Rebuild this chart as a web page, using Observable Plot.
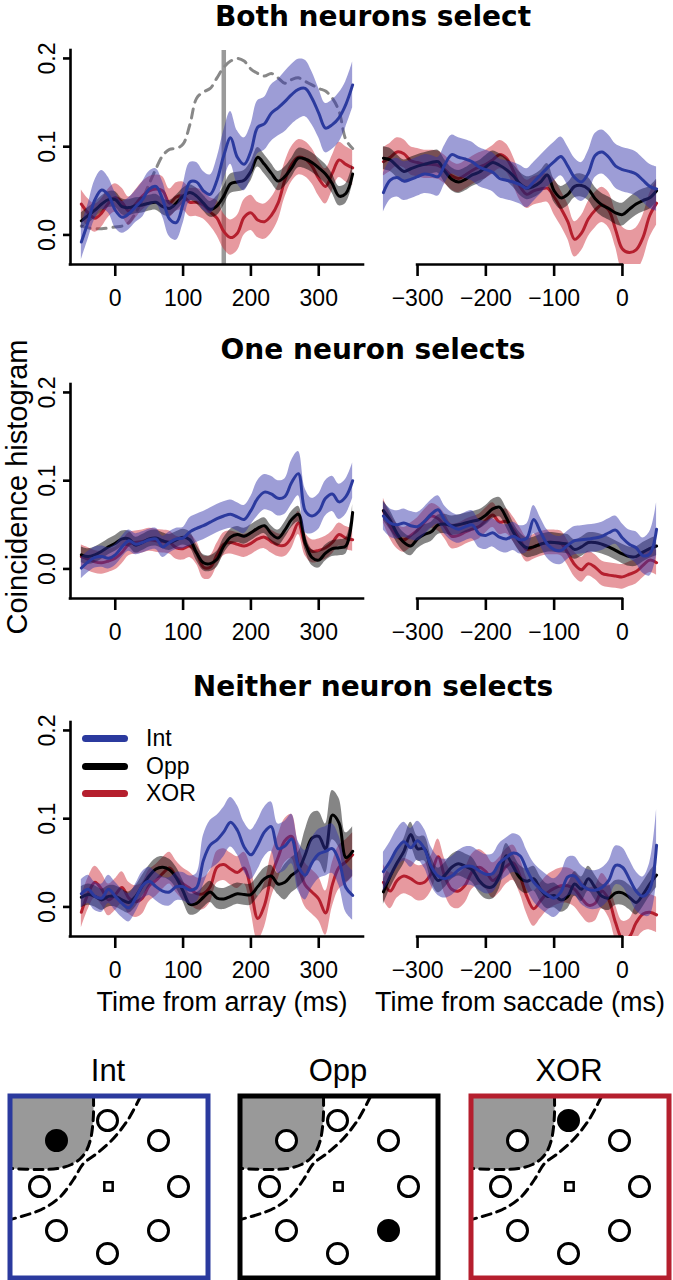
<!DOCTYPE html>
<html><head><meta charset="utf-8">
<script src="https://cdn.jsdelivr.net/npm/d3@7"></script>
<script src="https://cdn.jsdelivr.net/npm/@observablehq/plot@0.6"></script>
<style>
html,body{margin:0;padding:0;background:#fff;}
#root{position:relative;width:673px;height:1280px;overflow:hidden;background:#fff;font-family:"Liberation Sans",Arial,Helvetica,sans-serif;color:#000;}
.lbl{position:absolute;transform:translate(-50%,-50%);white-space:nowrap;line-height:1;}
.ttl{font-family:"DejaVu Sans",sans-serif;font-weight:bold;font-size:28px;}
.pl{position:absolute;}
.pl svg{overflow:visible;display:block;}
</style></head><body><div id="root"></div>
<script>
// ---------------- data ----------------
const tArray = [-50,-40,-30,-20,-10,0,10,20,30,40,50,60,70,80,90,100,110,120,130,140,150,160,170,180,190,200,210,220,230,240,250,260,270,280,290,300,310,320,330,340,350];
const tSacc = [-350,-340,-330,-320,-310,-300,-290,-280,-270,-260,-250,-240,-230,-220,-210,-200,-190,-180,-170,-160,-150,-140,-130,-120,-110,-100,-90,-80,-70,-60,-50,-40,-30,-20,-10,0,10,20,30,40,50];
const seriesNames = ["Int","Opp","XOR"];
const yTicks = [0, 0.1, 0.2];
const arrayTicks = [0,100,200,300];
const saccTicks = [-300,-200,-100,0];
const panelTitles = ["Both neurons select","One neuron selects","Neither neuron selects"];
const xTitles = ["Time from array (ms)","Time from saccade (ms)"];
const yTitle = "Coincidence histogram";
const markerTime = 160;

// Both neurons select
const bothArrayInt = [-0.008,0.015,0.04,0.051,0.045,0.028,0.02,0.024,0.032,0.04,0.052,0.055,0.04,0.018,0.014,0.035,0.06,0.06,0.05,0.046,0.062,0.09,0.11,0.088,0.08,0.095,0.122,0.126,0.138,0.144,0.151,0.159,0.165,0.166,0.155,0.138,0.121,0.125,0.133,0.148,0.17];
const bothArrayIntSE = [0.02,0.02,0.022,0.022,0.02,0.02,0.018,0.018,0.018,0.02,0.02,0.02,0.02,0.02,0.02,0.022,0.022,0.022,0.022,0.022,0.025,0.028,0.03,0.03,0.03,0.03,0.03,0.03,0.032,0.032,0.034,0.034,0.034,0.032,0.03,0.028,0.028,0.028,0.028,0.026,0.026];
const bothArrayOpp = [0.016,0.022,0.028,0.035,0.04,0.04,0.032,0.031,0.033,0.034,0.036,0.037,0.032,0.03,0.036,0.044,0.048,0.044,0.036,0.029,0.033,0.044,0.058,0.06,0.062,0.072,0.088,0.08,0.07,0.061,0.066,0.076,0.087,0.086,0.082,0.076,0.069,0.058,0.044,0.047,0.069];
const bothArrayOppSE = [0.009,0.009,0.009,0.009,0.009,0.009,0.009,0.009,0.009,0.009,0.009,0.009,0.009,0.009,0.009,0.009,0.009,0.009,0.009,0.009,0.011,0.011,0.011,0.011,0.011,0.011,0.011,0.011,0.011,0.011,0.011,0.011,0.011,0.011,0.011,0.011,0.011,0.011,0.011,0.011,0.011];
const bothArrayXor = [0.035,0.025,0.019,0.025,0.036,0.042,0.037,0.027,0.035,0.044,0.05,0.052,0.05,0.036,0.043,0.044,0.037,0.037,0.034,0.026,0.019,0.004,-0.003,0.002,0.02,0.025,0.017,0.015,0.022,0.036,0.062,0.08,0.088,0.086,0.078,0.064,0.055,0.07,0.085,0.08,0.076];
const bothArrayXorSE = [0.016,0.016,0.016,0.016,0.016,0.016,0.016,0.016,0.016,0.016,0.016,0.016,0.016,0.016,0.016,0.016,0.016,0.016,0.016,0.016,0.02,0.02,0.02,0.02,0.02,0.02,0.02,0.02,0.02,0.02,0.02,0.02,0.02,0.02,0.02,0.02,0.02,0.02,0.02,0.02,0.02];
const bothArrayRate = [0.01,0.008,0.007,0.007,0.008,0.009,0.01,0.014,0.025,0.04,0.058,0.075,0.09,0.097,0.098,0.103,0.125,0.155,0.162,0.166,0.178,0.19,0.197,0.2,0.197,0.188,0.183,0.18,0.183,0.178,0.172,0.176,0.178,0.174,0.17,0.166,0.163,0.155,0.14,0.108,0.098];

const bothSaccInt = [0.048,0.062,0.065,0.061,0.063,0.066,0.069,0.068,0.066,0.08,0.091,0.088,0.086,0.083,0.077,0.074,0.071,0.064,0.062,0.06,0.057,0.053,0.06,0.068,0.076,0.083,0.089,0.078,0.065,0.06,0.07,0.09,0.094,0.088,0.078,0.074,0.072,0.069,0.062,0.055,0.052];
const bothSaccIntSE = [0.022,0.022,0.022,0.022,0.022,0.022,0.022,0.022,0.022,0.022,0.022,0.022,0.022,0.022,0.022,0.022,0.022,0.022,0.022,0.022,0.022,0.022,0.022,0.022,0.022,0.022,0.022,0.022,0.022,0.022,0.025,0.025,0.025,0.025,0.025,0.025,0.025,0.025,0.025,0.025,0.025];
const bothSaccOpp = [0.087,0.085,0.078,0.072,0.075,0.078,0.08,0.082,0.083,0.072,0.063,0.06,0.063,0.068,0.071,0.077,0.082,0.079,0.074,0.067,0.058,0.053,0.055,0.06,0.068,0.05,0.042,0.046,0.055,0.056,0.052,0.041,0.034,0.03,0.025,0.023,0.029,0.035,0.039,0.042,0.05];
const bothSaccOppSE = [0.013,0.013,0.013,0.013,0.013,0.013,0.013,0.013,0.013,0.013,0.013,0.013,0.013,0.013,0.013,0.013,0.013,0.013,0.013,0.013,0.013,0.013,0.013,0.013,0.013,0.013,0.013,0.013,0.013,0.013,0.013,0.013,0.013,0.013,0.013,0.013,0.013,0.013,0.013,0.013,0.013];
const bothSaccXor = [0.083,0.088,0.094,0.092,0.084,0.082,0.08,0.08,0.079,0.074,0.067,0.064,0.068,0.073,0.077,0.08,0.085,0.091,0.087,0.073,0.055,0.046,0.05,0.052,0.053,0.043,0.03,0.015,-0.005,0.002,0.018,0.028,0.034,0.028,0.006,-0.016,-0.02,-0.017,-0.003,0.022,0.036];
const bothSaccXorSE = [0.016,0.016,0.016,0.016,0.016,0.016,0.016,0.016,0.016,0.016,0.016,0.016,0.016,0.016,0.016,0.016,0.016,0.016,0.016,0.016,0.016,0.016,0.016,0.016,0.016,0.02,0.02,0.02,0.02,0.02,0.02,0.02,0.02,0.02,0.02,0.025,0.025,0.025,0.025,0.025,0.025];

// One neuron selects
const oneArrayInt = [0.001,0.008,0.013,0.014,0.012,0.016,0.025,0.032,0.028,0.03,0.033,0.034,0.025,0.03,0.034,0.035,0.042,0.046,0.049,0.053,0.057,0.06,0.062,0.059,0.056,0.066,0.08,0.087,0.085,0.08,0.082,0.098,0.108,0.066,0.06,0.065,0.08,0.085,0.076,0.082,0.1];
const oneArrayIntSE = [0.012,0.012,0.012,0.012,0.012,0.012,0.012,0.012,0.012,0.012,0.012,0.012,0.012,0.012,0.012,0.012,0.016,0.016,0.016,0.016,0.016,0.016,0.016,0.016,0.016,0.016,0.02,0.02,0.02,0.02,0.02,0.025,0.025,0.025,0.02,0.02,0.02,0.02,0.02,0.02,0.02];
const oneArrayOpp = [0.016,0.014,0.016,0.02,0.025,0.029,0.034,0.034,0.027,0.03,0.034,0.035,0.032,0.03,0.033,0.036,0.033,0.018,0.007,0.006,0.011,0.026,0.036,0.039,0.037,0.041,0.046,0.049,0.04,0.035,0.044,0.056,0.062,0.03,0.013,0.01,0.018,0.023,0.024,0.026,0.064];
const oneArrayOppSE = [0.009,0.009,0.009,0.009,0.009,0.009,0.009,0.009,0.009,0.009,0.009,0.009,0.009,0.009,0.009,0.009,0.009,0.009,0.009,0.009,0.009,0.009,0.009,0.009,0.009,0.009,0.009,0.009,0.009,0.009,0.009,0.009,0.009,0.009,0.009,0.009,0.009,0.009,0.009,0.009,0.009];
const oneArrayXor = [0.014,0.011,0.008,0.007,0.009,0.012,0.019,0.028,0.03,0.031,0.033,0.032,0.031,0.03,0.024,0.023,0.026,0.018,0.002,0.002,0.016,0.028,0.03,0.028,0.026,0.029,0.034,0.036,0.031,0.027,0.027,0.036,0.052,0.028,0.02,0.021,0.024,0.03,0.039,0.035,0.033];
const oneArrayXorSE = [0.013,0.013,0.013,0.013,0.013,0.013,0.013,0.013,0.013,0.013,0.013,0.013,0.013,0.013,0.013,0.013,0.013,0.013,0.013,0.013,0.013,0.013,0.013,0.013,0.013,0.013,0.013,0.013,0.013,0.013,0.013,0.013,0.013,0.013,0.013,0.013,0.013,0.013,0.013,0.013,0.013];

const oneSaccInt = [0.06,0.052,0.05,0.052,0.049,0.048,0.054,0.062,0.067,0.055,0.048,0.045,0.048,0.05,0.04,0.038,0.041,0.036,0.034,0.037,0.033,0.035,0.056,0.042,0.028,0.022,0.021,0.027,0.032,0.033,0.034,0.035,0.037,0.041,0.044,0.035,0.028,0.024,0.015,0.017,0.045];
const oneSaccIntSE = [0.016,0.016,0.016,0.016,0.016,0.016,0.016,0.016,0.016,0.016,0.016,0.016,0.016,0.016,0.016,0.016,0.016,0.016,0.016,0.016,0.016,0.016,0.016,0.016,0.016,0.016,0.016,0.016,0.016,0.016,0.016,0.016,0.016,0.016,0.016,0.016,0.016,0.018,0.02,0.025,0.03];
const oneSaccOpp = [0.066,0.055,0.04,0.03,0.026,0.034,0.039,0.042,0.05,0.051,0.049,0.05,0.052,0.054,0.056,0.061,0.068,0.07,0.058,0.042,0.03,0.024,0.025,0.028,0.03,0.03,0.029,0.028,0.022,0.025,0.03,0.03,0.028,0.025,0.021,0.017,0.014,0.014,0.019,0.023,0.026];
const oneSaccOppSE = [0.011,0.011,0.011,0.011,0.011,0.011,0.011,0.011,0.011,0.011,0.011,0.011,0.011,0.011,0.011,0.011,0.011,0.011,0.011,0.011,0.011,0.011,0.011,0.011,0.011,0.011,0.011,0.011,0.011,0.011,0.011,0.011,0.011,0.011,0.011,0.011,0.011,0.011,0.011,0.011,0.011];
const oneSaccXor = [0.066,0.048,0.037,0.033,0.038,0.044,0.053,0.06,0.057,0.048,0.037,0.038,0.042,0.045,0.048,0.055,0.061,0.053,0.054,0.045,0.033,0.022,0.025,0.028,0.03,0.03,0.029,0.018,0.005,-0.001,0.006,0.002,-0.005,-0.007,-0.008,-0.009,-0.006,-0.003,0.004,0.01,0.007];
const oneSaccXorSE = [0.014,0.014,0.014,0.014,0.014,0.014,0.014,0.014,0.014,0.014,0.014,0.014,0.014,0.014,0.014,0.014,0.014,0.014,0.014,0.014,0.014,0.014,0.014,0.014,0.014,0.014,0.014,0.014,0.014,0.014,0.014,0.014,0.014,0.014,0.014,0.014,0.014,0.014,0.014,0.014,0.014];

// Neither neuron selects
const neitherArrayInt = [0.015,0.02,0.012,0.01,0.02,0.012,0.004,-0.001,0.01,0.024,0.029,0.023,0.018,0.017,0.023,0.023,0.019,0.022,0.053,0.07,0.076,0.085,0.096,0.087,0.068,0.059,0.07,0.085,0.091,0.066,0.069,0.077,0.046,0.036,0.05,0.06,0.063,0.066,0.052,0.022,0.013];
const neitherArrayIntSE = [0.016,0.016,0.016,0.016,0.016,0.016,0.016,0.016,0.016,0.016,0.016,0.016,0.016,0.016,0.016,0.016,0.016,0.016,0.028,0.028,0.028,0.028,0.028,0.028,0.028,0.028,0.028,0.028,0.028,0.028,0.028,0.028,0.028,0.028,0.028,0.028,0.028,0.028,0.028,0.028,0.028];
const neitherArrayOpp = [0.011,0.014,0.012,0.008,0.012,0.012,0.008,0.005,0.012,0.024,0.035,0.043,0.045,0.042,0.033,0.018,0.003,0.004,0.011,0.017,0.01,0.009,0.012,0.015,0.014,0.014,0.023,0.032,0.035,0.026,0.028,0.036,0.042,0.059,0.078,0.08,0.066,0.104,0.095,0.056,0.063];
const neitherArrayOppSE = [0.012,0.012,0.012,0.012,0.012,0.012,0.012,0.012,0.012,0.012,0.012,0.012,0.012,0.012,0.012,0.012,0.012,0.012,0.012,0.012,0.012,0.012,0.012,0.012,0.012,0.012,0.012,0.012,0.012,0.012,0.02,0.02,0.02,0.028,0.028,0.028,0.028,0.028,0.028,0.028,0.028];
const neitherArrayXor = [-0.006,0.015,0.028,0.02,0.008,0.014,0.022,0.01,0.006,0.01,0.024,0.03,0.038,0.044,0.034,0.026,0.021,0.015,0.015,0.023,0.045,0.048,0.043,0.039,0.044,0.02,-0.013,0.002,0.035,0.056,0.075,0.08,0.047,0.025,0.017,0.009,-0.007,0.025,0.045,0.051,0.059];
const neitherArrayXorSE = [0.018,0.018,0.018,0.018,0.018,0.018,0.018,0.018,0.018,0.018,0.018,0.018,0.018,0.018,0.018,0.018,0.018,0.018,0.018,0.018,0.018,0.018,0.018,0.018,0.018,0.025,0.025,0.025,0.025,0.025,0.025,0.025,0.025,0.025,0.025,0.025,0.025,0.025,0.025,0.025,0.025];

const neitherSaccInt = [0.04,0.052,0.066,0.074,0.067,0.075,0.066,0.046,0.035,0.032,0.035,0.042,0.046,0.046,0.041,0.037,0.038,0.05,0.056,0.061,0.058,0.042,0.028,0.02,0.014,0.01,0.017,0.034,0.035,0.025,0.02,0.019,0.022,0.03,0.047,0.045,0.032,0.018,0.012,0.02,0.07];
const neitherSaccIntSE = [0.022,0.022,0.022,0.022,0.022,0.022,0.022,0.022,0.022,0.022,0.022,0.022,0.022,0.022,0.022,0.022,0.022,0.022,0.022,0.022,0.022,0.022,0.022,0.022,0.022,0.022,0.022,0.022,0.022,0.022,0.022,0.022,0.022,0.022,0.022,0.022,0.022,0.022,0.022,0.03,0.04];
const neitherSaccOpp = [0.017,0.035,0.05,0.063,0.082,0.066,0.066,0.043,0.03,0.036,0.045,0.049,0.046,0.042,0.03,0.023,0.023,0.035,0.058,0.046,0.033,0.029,0.032,0.02,0.012,0.013,0.008,0.012,0.026,0.02,0.032,0.022,0.012,0.01,0.016,0.016,0.011,0.005,0.014,0.026,0.036];
const neitherSaccOppSE = [0.014,0.014,0.014,0.014,0.014,0.014,0.014,0.014,0.014,0.014,0.014,0.014,0.014,0.014,0.014,0.014,0.014,0.014,0.014,0.014,0.014,0.014,0.014,0.014,0.014,0.014,0.014,0.014,0.014,0.014,0.014,0.014,0.014,0.014,0.014,0.014,0.014,0.014,0.014,0.014,0.014];
const neitherSaccXor = [0.028,0.018,0.03,0.035,0.032,0.027,0.028,0.038,0.057,0.034,0.02,0.018,0.025,0.04,0.045,0.04,0.03,0.036,0.046,0.05,0.035,0.012,-0.002,0.007,0.016,0.021,0.024,0.024,0.02,0.01,0.002,0.004,0.018,0.008,-0.018,-0.036,-0.034,-0.018,-0.008,-0.006,-0.009];
const neitherSaccXorSE = [0.02,0.02,0.02,0.02,0.02,0.02,0.02,0.02,0.02,0.02,0.02,0.02,0.02,0.02,0.02,0.02,0.02,0.02,0.02,0.02,0.02,0.02,0.02,0.02,0.02,0.02,0.02,0.02,0.02,0.02,0.02,0.02,0.02,0.02,0.02,0.02,0.02,0.02,0.02,0.02,0.02];

// Task diagrams (schematic positions in box units)
const diagramNames = ["Int","Opp","XOR"];
const diagramFilled = [7, 3, 0];
const ringX = [100,151,171,151,100,49,32,49];
const ringY = [27,47,93,137,160,137,93,47];
const fixX = [101], fixY = [93];
const rfX = [3,86,86,85,83,79,73,64,50,30,3];
const rfY = [3,3,20,34,46,57,65,71,75,76,75];
const outerX = [133,120,104,88,76,66,52,34,3];
const outerY = [3,27,47,61,70,86,104,116,126];

// ---------------- styling ----------------
const lineColor = {Int:"#2B3A9E", Opp:"#000000", XOR:"#B51F2E"};
const bandColor = {Int:"#3333AA", Opp:"#000000", XOR:"#CC2A36"};
const yDomain = [-0.0335, 0.209];
const REGION_H = 214, MT = 10, MB = 50;
const panelTops = [50, 384, 722];
const LEFT = {left:0, width:368, ml:70, mr:5, domain:[-66,366], ticks:arrayTicks, isLeft:true};
const RIGHT = {left:368, width:305, ml:4, mr:6, domain:[-366,66], ticks:saccTicks, isLeft:false};
const fmtTick = d => d < 0 ? "\u2212" + (-d) : String(d);

const root = document.getElementById("root");
function place(node, left, top) {
  const w = document.createElement("div");
  w.className = "pl"; w.style.left = left + "px"; w.style.top = top + "px";
  w.appendChild(node); root.appendChild(w);
}
function label(text, x, y, css, cls) {
  const d = document.createElement("div");
  d.className = "lbl" + (cls ? " " + cls : "");
  d.textContent = text;
  d.style.left = x + "px"; d.style.top = y + "px";
  if (css) Object.assign(d.style, css);
  root.appendChild(d);
  return d;
}

function drawPanel(cfg, t, series, top, extraMarks) {
  const marks = [...(extraMarks || [])];
  for (const s of series) {
    const d = t.map((x, i) => ({t: x, v: s.mean[i], lo: s.mean[i] - s.se[i], hi: s.mean[i] + s.se[i]}));
    marks.push(Plot.areaY(d, {x: "t", y1: "lo", y2: "hi", fill: bandColor[s.name], fillOpacity: 0.48, curve: "catmull-rom", clip: true}));
    marks.push(Plot.line(d, {x: "t", y: "v", stroke: lineColor[s.name], strokeWidth: 3, curve: "catmull-rom", clip: true}));
  }
  if (cfg.isLeft) {
    marks.push(Plot.ruleX([cfg.domain[0]], {strokeWidth: 2.6, strokeLinecap: "square"}));
    marks.push(Plot.ruleY([yDomain[0]], {strokeWidth: 2.6, strokeLinecap: "square"}));
    marks.push(Plot.axisY({ticks: yTicks, tickSize: 7, strokeWidth: 2.6, tickFormat: () => "", label: null}));
    marks.push(Plot.text(yTicks, {y: d => d, frameAnchor: "left", text: d => d.toFixed(1), rotate: -90, dx: -23, textAnchor: "middle", lineAnchor: "middle"}));
  } else {
    marks.push(Plot.ruleY([yDomain[0]], {x1: cfg.ticks[0], x2: cfg.ticks[cfg.ticks.length - 1], strokeWidth: 2.6, strokeLinecap: "square"}));
  }
  marks.push(Plot.axisX({ticks: cfg.ticks, tickSize: 12, tickPadding: 13, strokeWidth: 2.6, tickFormat: fmtTick, label: null}));
  const svg = Plot.plot({
    width: cfg.width, height: MT + REGION_H + MB,
    marginLeft: cfg.ml, marginRight: cfg.mr, marginTop: MT, marginBottom: MB,
    x: {domain: cfg.domain, axis: null, label: null},
    y: {domain: yDomain, axis: null, label: null},
    style: {fontFamily: "Liberation Sans, Arial, sans-serif", fontSize: "23px", background: "transparent", color: "#000"},
    marks
  });
  place(svg, cfg.left, top - MT);
}

function S(name, mean, se) { return {name, mean, se}; }

// Panel 1
const rateRows = tArray.map((x, i) => ({t: x, v: bothArrayRate[i]}));
drawPanel(LEFT, tArray, [S("XOR", bothArrayXor, bothArrayXorSE), S("Opp", bothArrayOpp, bothArrayOppSE), S("Int", bothArrayInt, bothArrayIntSE)], panelTops[0], [
  Plot.ruleX([markerTime], {stroke: "#9a9a9a", strokeWidth: 4.5}),
  Plot.line(rateRows, {x: "t", y: "v", stroke: "#888", strokeWidth: 3, strokeDasharray: "9,7", curve: "catmull-rom", clip: true})
]);
drawPanel(RIGHT, tSacc, [S("XOR", bothSaccXor, bothSaccXorSE), S("Opp", bothSaccOpp, bothSaccOppSE), S("Int", bothSaccInt, bothSaccIntSE)], panelTops[0]);
// Panel 2
drawPanel(LEFT, tArray, [S("XOR", oneArrayXor, oneArrayXorSE), S("Opp", oneArrayOpp, oneArrayOppSE), S("Int", oneArrayInt, oneArrayIntSE)], panelTops[1]);
drawPanel(RIGHT, tSacc, [S("XOR", oneSaccXor, oneSaccXorSE), S("Opp", oneSaccOpp, oneSaccOppSE), S("Int", oneSaccInt, oneSaccIntSE)], panelTops[1]);
// Panel 3
drawPanel(LEFT, tArray, [S("XOR", neitherArrayXor, neitherArrayXorSE), S("Opp", neitherArrayOpp, neitherArrayOppSE), S("Int", neitherArrayInt, neitherArrayIntSE)], panelTops[2]);
drawPanel(RIGHT, tSacc, [S("XOR", neitherSaccXor, neitherSaccXorSE), S("Opp", neitherSaccOpp, neitherSaccOppSE), S("Int", neitherSaccInt, neitherSaccIntSE)], panelTops[2]);

// Titles
label(panelTitles[0], 373, 17, null, "ttl");
label(panelTitles[1], 373, 350, null, "ttl");
label(panelTitles[2], 373, 687, null, "ttl");
label(xTitles[0], 222, 1002, {fontSize: "27px"});
label(xTitles[1], 520, 1002, {fontSize: "27px"});
label(yTitle, 17, 487, {fontSize: "29px", transform: "translate(-50%,-50%) rotate(-90deg)"});

// Legend
const legendY = [738, 766, 793];
seriesNames.forEach((n, i) => {
  const bar = document.createElement("div");
  Object.assign(bar.style, {position: "absolute", left: "82px", top: (legendY[i] - 3.5) + "px", width: "46px", height: "7px", borderRadius: "3.5px", background: lineColor[n]});
  root.appendChild(bar);
  label(n, 146, legendY[i], {fontSize: "23px", transform: "translate(0,-50%)"});
});

// Diagrams
const diagLeft = [7, 237, 468];
const diagColor = [lineColor.Int, lineColor.Opp, lineColor.XOR];
const rfPoly = rfX.map((x, i) => ({x, y: rfY[i]}));
const rfEdge = rfPoly.slice(1);
const outerEdge = outerX.map((x, i) => ({x, y: outerY[i]}));
diagramNames.forEach((name, k) => {
  const ring = ringX.map((x, i) => ({x, y: ringY[i], filled: i === diagramFilled[k]}));
  const svg = Plot.plot({
    width: 203, height: 187, margin: 0,
    x: {domain: [0, 203], axis: null}, y: {domain: [0, 187], reverse: true, axis: null},
    style: {background: "transparent"},
    marks: [
      Plot.line(rfPoly, {x: "x", y: "y", fill: "#999999", stroke: "none", curve: "linear"}),
      Plot.line(rfEdge, {x: "x", y: "y", stroke: "#000", strokeWidth: 3, strokeDasharray: "9,6", curve: "catmull-rom"}),
      Plot.line(outerEdge, {x: "x", y: "y", stroke: "#000", strokeWidth: 3, strokeDasharray: "9,6", curve: "catmull-rom"}),
      Plot.dot(ring.filter(d => !d.filled), {x: "x", y: "y", r: 10, stroke: "#000", strokeWidth: 3, fill: "#fff"}),
      Plot.dot(ring.filter(d => d.filled), {x: "x", y: "y", r: 10.5, stroke: "#000", strokeWidth: 2, fill: "#000"}),
      Plot.dot(fixX.map((x, i) => ({x, y: fixY[i]})), {x: "x", y: "y", symbol: "square", r: 4.7, stroke: "#000", strokeWidth: 2.5, fill: "#fff"}),
      Plot.frame({stroke: diagColor[k], strokeWidth: 5, inset: 2.5})
    ]
  });
  place(svg, diagLeft[k], 1093);
  label(name, diagLeft[k] + 101, 1070, {fontSize: "31px"});
});
</script></body></html>
